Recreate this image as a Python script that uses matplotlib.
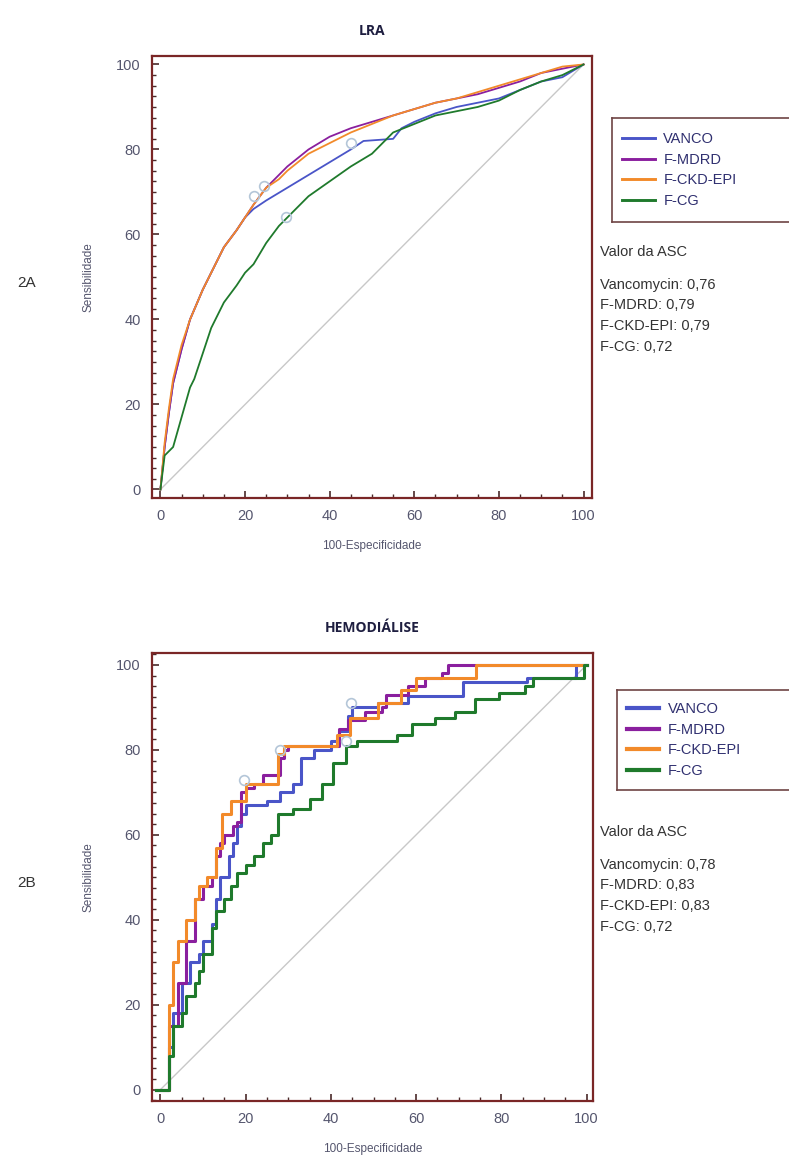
import matplotlib
matplotlib.use("Agg")
import matplotlib.pyplot as plt
from matplotlib.ticker import MultipleLocator
from matplotlib.lines import Line2D

# ---- LRA (2A) ----
lra_vanco_x = [0, 1, 2, 3, 5, 7, 10, 12, 15, 18, 20, 22, 25, 30, 35, 40, 45, 48, 55, 57, 60, 65, 70, 75, 80, 85, 90, 95, 100]
lra_vanco_y = [0, 10, 18, 25, 33, 40, 47, 51, 57, 61, 64, 66, 68, 71, 74, 77, 80, 82, 82.5, 85, 86.5, 88.5, 90, 91, 92, 94, 96, 97, 100]
lra_mdrd_x = [0, 1, 2, 3, 5, 7, 10, 12, 15, 18, 20, 22, 25, 28, 30, 35, 40, 45, 50, 55, 60, 65, 70, 75, 80, 85, 90, 95, 100]
lra_mdrd_y = [0, 10, 18, 25, 33, 40, 47, 51, 57, 61, 64, 67, 71, 74, 76, 80, 83, 85, 86.5, 88, 89.5, 91, 92, 93, 94.5, 96, 98, 99, 100]
lra_ckd_x = [0, 1, 2, 3, 5, 7, 10, 12, 15, 18, 20, 22, 25, 28, 30, 35, 40, 45, 50, 55, 60, 65, 70, 75, 80, 85, 90, 95, 100]
lra_ckd_y = [0, 11, 19, 26, 34, 40, 47, 51, 57, 61, 64, 67, 71, 73, 75, 79, 81.5, 84, 86, 88, 89.5, 91, 92, 93.5, 95, 96.5, 98, 99.5, 100]
lra_cg_x = [0, 1, 3, 5, 7, 8, 10, 12, 15, 18, 20, 22, 25, 28, 30, 35, 40, 45, 50, 52, 55, 60, 65, 70, 75, 80, 85, 90, 95, 100]
lra_cg_y = [0, 8, 10, 17, 24, 26, 32, 38, 44, 48, 51, 53, 58, 62, 64, 69, 72.5, 76, 79, 81, 84, 86, 88, 89, 90, 91.5, 94, 96, 97.5, 100]
lra_cut_x = [24.4, 22, 29.6, 45]
lra_cut_y = [71.3, 69, 64.2, 81.5]
lra_auc = ["Vancomycin: 0,76", "F-MDRD: 0,79", "F-CKD-EPI: 0,79", "F-CG: 0,72"]

# ---- Hemodialise (2B) ----
hd_vanco_x = [-1, 1, 2, 3, 5, 7, 9, 10, 12, 13, 14, 16, 17, 18, 19, 20, 25, 28, 31, 33, 36, 40, 42, 44, 45, 51, 58, 66, 71, 86, 97.5, 100]
hd_vanco_y = [0, 0, 10, 18, 25, 30, 32, 35, 39, 45, 50, 55, 58, 62, 65, 67, 68, 70, 72, 78, 80, 82, 84.5, 88, 90, 91, 92.6, 92.6, 96, 97, 100, 100]
hd_mdrd_x = [-1, 1, 2, 4, 6, 8, 10, 12, 13, 14, 15, 17, 18, 19, 20, 22, 24, 26, 28, 29, 30, 40, 42, 44, 48, 52, 53, 58, 62, 66, 67.5, 100]
hd_mdrd_y = [0, 0, 15, 25, 35, 45, 48, 50, 55, 58, 60, 62, 63, 70, 71, 72, 74, 74, 78, 80, 81, 81, 85, 87, 89, 90, 93, 95, 97, 98, 100, 100]
hd_ckd_x = [-1, 1, 2, 3, 4, 6, 8, 9, 11, 13, 14.5, 16.5, 18, 20, 26.5, 27.5, 29, 39, 41.5, 44.5, 51, 56.5, 60, 74, 100]
hd_ckd_y = [0, 0, 20, 30, 35, 40, 45, 48, 50, 57, 65, 68, 68, 72, 72, 79, 81, 81, 83.5, 87.5, 91, 94, 97, 100, 100]
hd_cg_x = [-1, 1, 2, 3, 5, 6, 8, 9, 10, 12, 13, 15, 16.5, 18, 20, 22, 24, 26, 27.5, 31, 35, 38, 40.5, 43.5, 46, 55.5, 59, 64.5, 69, 73.8, 79.4, 85.5, 87.4, 99.5, 100]
hd_cg_y = [0, 0, 8, 15, 18, 22, 25, 28, 32, 38, 42, 45, 48, 51, 53, 55, 58, 60, 65, 66, 68.5, 72, 77, 81, 82, 83.5, 86, 87.6, 89, 92, 93.4, 95, 97, 100, 100]
hd_cut_x = [19.6, 28, 44.6, 43.6]
hd_cut_y = [73, 80, 91, 82]
hd_auc = ["Vancomycin: 0,78", "F-MDRD: 0,83", "F-CKD-EPI: 0,83", "F-CG: 0,72"]

names = ["VANCO", "F-MDRD", "F-CKD-EPI", "F-CG"]
colors = ["#4a55c8", "#8a1f9e", "#f28a2a", "#1f7a2c"]

frame = "#7a2626"
tickc = "#55566e"
tickfont = ["Liberation Sans Narrow", "Liberation Sans", "DejaVu Sans"]
plt.rcParams["font.family"] = ["Liberation Sans", "DejaVu Sans"]

fig = plt.figure(figsize=(7.89, 11.66), dpi=100)


def roc_panel(rect, xlim, ylim, curves, cuts, lw, steps, title, panel, auc, leg_rect, txt_y):
    ax = fig.add_axes(rect)
    ax.plot([0, 100], [0, 100], color="#c8c8c8", lw=1.0, zorder=1)
    for (xs, ys), c, n in zip(curves, colors, names):
        if steps:
            ax.step(xs, ys, where="post", color=c, lw=lw, zorder=2)
        else:
            ax.plot(xs, ys, color=c, lw=lw, zorder=2)
    ax.plot(cuts[0], cuts[1], "o", ms=7, mfc="none", mec="#b4c6d8", mew=1.2, zorder=3)
    ax.set_xlim(*xlim)
    ax.set_ylim(*ylim)
    ax.xaxis.set_major_locator(MultipleLocator(20))
    ax.yaxis.set_major_locator(MultipleLocator(20))
    ax.xaxis.set_minor_locator(MultipleLocator(5))
    ax.yaxis.set_minor_locator(MultipleLocator(2.5))
    ax.tick_params(which="major", direction="in", length=5, width=1.2, color="#4a2a2a",
                   labelcolor=tickc, labelsize=10.5, pad=8)
    ax.tick_params(which="minor", direction="in", length=3, width=1.0, color="#4a2a2a")
    for lab in ax.get_xticklabels() + ax.get_yticklabels():
        lab.set_family(tickfont)
    for s in ax.spines.values():
        s.set_color(frame)
        s.set_linewidth(1.6)
    ax.set_xlabel("100-Especificidade", color="#55566e", fontsize=8.5, labelpad=12)
    ax.set_ylabel("Sensibilidade", color="#55566e", fontsize=8.5, labelpad=16)
    ax.set_title(title, fontsize=10, fontweight="bold", color="#1e1e40",
                 family=["Open Sans", "DejaVu Sans"], pad=15)
    fig.text(0.034, rect[1] + rect[3] / 2 - 0.005, panel, fontsize=11, color="#333333",
             ha="center", va="center")

    lax = fig.add_axes(leg_rect)
    lax.set_xticks([])
    lax.set_yticks([])
    for s in lax.spines.values():
        s.set_color("#6e4444")
        s.set_linewidth(1.2)
    handles = [Line2D([], [], color=c, lw=lw + 0.8) for c in colors]
    lax.legend(handles, names, loc="center left", frameon=False, fontsize=10.5,
               handlelength=2.2, handletextpad=0.6, labelspacing=0.45,
               borderaxespad=0.3, labelcolor="#303070")

    fig.text(0.761, txt_y, "Valor da ASC", fontsize=10.5, color="#333333", va="center")
    for i, t in enumerate(auc):
        fig.text(0.761, txt_y - 0.028 - i * 0.0178, t, fontsize=10.5, color="#333333", va="center")
    return ax


roc_panel([0.1926, 0.5729, 0.5577, 0.3791], (-2, 102), (-2, 102),
          [(lra_vanco_x, lra_vanco_y), (lra_mdrd_x, lra_mdrd_y), (lra_ckd_x, lra_ckd_y), (lra_cg_x, lra_cg_y)],
          (lra_cut_x, lra_cut_y), 1.3, False, "LRA", "2A", lra_auc,
          [0.776, 1 - 222 / 1166, 0.235, 104 / 1166], 1 - 252 / 1166)

roc_panel([0.1926, 0.0557, 0.559, 0.3842], (-2, 101.5), (-2.7, 102.8),
          [(hd_vanco_x, hd_vanco_y), (hd_mdrd_x, hd_mdrd_y), (hd_ckd_x, hd_ckd_y), (hd_cg_x, hd_cg_y)],
          (hd_cut_x, hd_cut_y), 2.2, True, "HEMODIÁLISE", "2B", hd_auc,
          [0.782, 1 - 790 / 1166, 0.23, 100 / 1166], 1 - 832 / 1166)

fig.savefig("out.png", dpi=100)
